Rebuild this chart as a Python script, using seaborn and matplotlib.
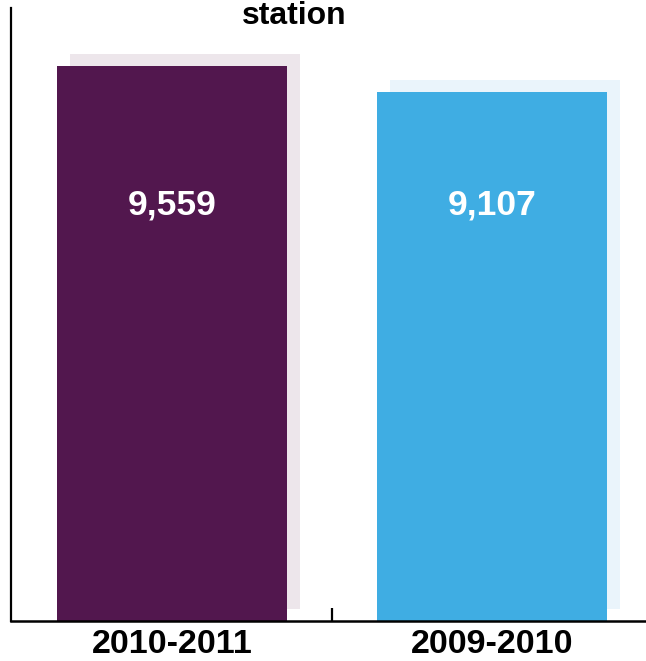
import matplotlib
matplotlib.use("Agg")
import matplotlib.pyplot as plt
import matplotlib.transforms as mtransforms
import seaborn as sns
import pandas as pd

categories = ["2010-2011", "2009-2010"]
values = [9559, 9107]
value_labels = ["9,559", "9,107"]
bar_colors = ["#52174E", "#3FADE3"]
shadow_colors = ["#EDE6EB", "#EAF4FB"]
title_text = "station"

sns.set_theme(style="white")
plt.rcParams["font.family"] = ["Liberation Sans", "DejaVu Sans"]

df = pd.DataFrame({"period": categories, "value": values})

W, H = 646, 661
fig = plt.figure(figsize=(W / 100, H / 100), dpi=100)
ax = fig.add_axes([11 / W, 40 / H, 641 / W, 613 / H])

# shadow bars
sns.barplot(data=df, x="period", y="value", hue="period", palette=shadow_colors,
            width=0.72, saturation=1, legend=False, ax=ax, zorder=1)
shadow_patches = list(ax.patches)
off = mtransforms.ScaledTranslation(13 / 100, 12.5 / 100, fig.dpi_scale_trans)
for p in shadow_patches:
    p.set_transform(ax.transData + off)
    p.set_edgecolor("none")
    p.set_clip_on(False)

# main bars
sns.barplot(data=df, x="period", y="value", hue="period", palette=bar_colors,
            width=0.72, saturation=1, legend=False, ax=ax, zorder=2)
for p in ax.patches[len(shadow_patches):]:
    p.set_edgecolor("none")
    p.set_zorder(2)

label_y = 0.75 * max(values)
for i, lab in enumerate(value_labels):
    ax.text(i, label_y, lab, ha="center", va="center", color="white",
            fontsize=25.5, fontweight="bold", zorder=3)

ax.set_xlim(-0.503, 1.5)
ax.set_ylim(0, 10560)
ax.set_xlabel("")
ax.set_ylabel("")
ax.set_yticks([])
ax.tick_params(axis="x", which="major", length=0, pad=6, labelsize=24.5)
for t in ax.get_xticklabels():
    t.set_fontweight("bold")
    t.set_color("black")
ax.set_xticks([0.5], minor=True)
ax.tick_params(axis="x", which="minor", direction="in", length=9.5, width=1.6,
               color="black", bottom=True)

for s in ["top", "right"]:
    ax.spines[s].set_visible(False)
ax.spines["left"].set_color("black")
ax.spines["left"].set_linewidth(1.6)
ax.spines["bottom"].set_color("black")
ax.spines["bottom"].set_linewidth(1.8)

fig.text(294 / W, 1 - 0.5 / H, title_text, ha="center", va="top",
         fontsize=23, fontweight="bold", color="black")

fig.savefig("out.png", dpi=100)
